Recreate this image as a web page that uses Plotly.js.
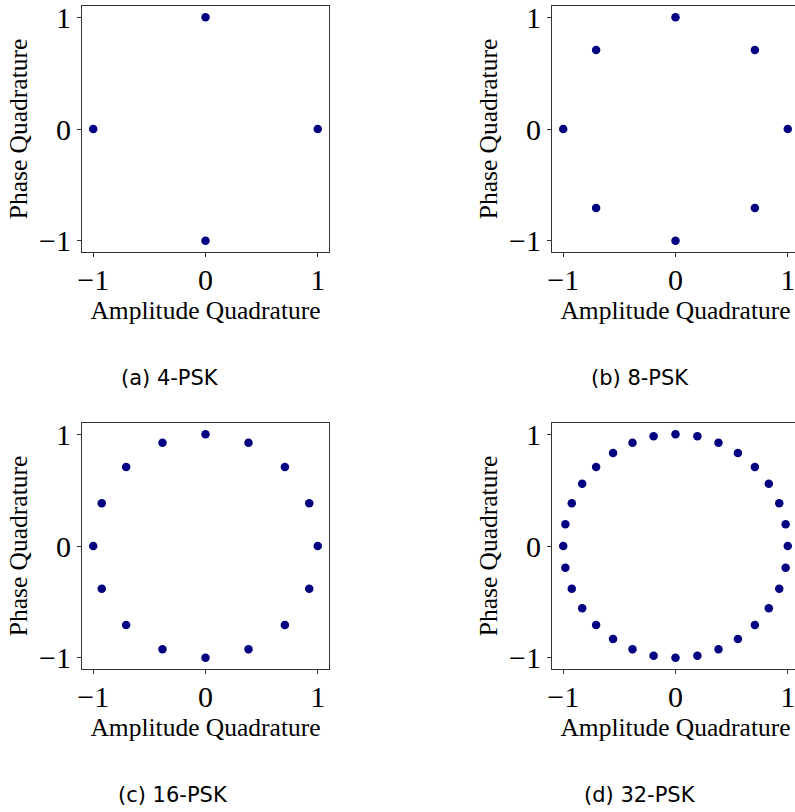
<!DOCTYPE html>
<html><head><meta charset="utf-8">
<script src="https://cdn.plot.ly/plotly-3.0.1.min.js"></script>
<style>html,body{margin:0;padding:0;overflow:hidden;background:#fff}#g{width:800px;height:812px}</style>
</head><body><div id="g"></div>
<script>
// Constellation points (in-phase / amplitude, quadrature / phase)
const psk4_x = [1, 0, -1, 0];
const psk4_y = [0, 1, 0, -1];
const psk8_x = [1, 0.707, 0, -0.707, -1, -0.707, 0, 0.707];
const psk8_y = [0, 0.707, 1, 0.707, 0, -0.707, -1, -0.707];
const psk16_x = [1, 0.924, 0.707, 0.383, 0, -0.383, -0.707, -0.924, -1, -0.924, -0.707, -0.383, 0, 0.383, 0.707, 0.924];
const psk16_y = [0, 0.383, 0.707, 0.924, 1, 0.924, 0.707, 0.383, 0, -0.383, -0.707, -0.924, -1, -0.924, -0.707, -0.383];
const psk32_x = [1, 0.981, 0.924, 0.831, 0.707, 0.556, 0.383, 0.195, 0, -0.195, -0.383, -0.556, -0.707, -0.831, -0.924, -0.981,
                 -1, -0.981, -0.924, -0.831, -0.707, -0.556, -0.383, -0.195, 0, 0.195, 0.383, 0.556, 0.707, 0.831, 0.924, 0.981];
const psk32_y = [0, 0.195, 0.383, 0.556, 0.707, 0.831, 0.924, 0.981, 1, 0.981, 0.924, 0.831, 0.707, 0.556, 0.383, 0.195,
                 0, -0.195, -0.383, -0.556, -0.707, -0.831, -0.924, -0.981, -1, -0.981, -0.924, -0.831, -0.707, -0.556, -0.383, -0.195];
const captions = ["(a) 4-PSK", "(b) 8-PSK", "(c) 16-PSK", "(d) 32-PSK"];
const tickVals = [-1, 0, 1];
const tickText = ["\u22121", "0", "1"];
const xTitle = "Amplitude Quadrature";
const yTitle = "Phase Quadrature";

const W = 800, H = 812;
const sets = [[psk4_x, psk4_y], [psk8_x, psk8_y], [psk16_x, psk16_y], [psk32_x, psk32_y]];
const traces = sets.map((s, i) => ({
  x: s[0], y: s[1], type: 'scatter', mode: 'markers',
  xaxis: i === 0 ? 'x' : 'x' + (i + 1), yaxis: i === 0 ? 'y' : 'y' + (i + 1),
  marker: {color: '#000080', size: 8.5}, showlegend: false, cliponaxis: false, hoverinfo: 'skip'
}));

const xdom = [[82 / W, 329 / W], [552 / W, 799 / W]];
const ydom = [[(H - 252) / H, (H - 6) / H], [(H - 669) / H, (H - 423) / H]];
const serif = 'Liberation Serif, Times New Roman, serif';
const layout = {width: W, height: H, margin: {l: 0, r: 0, t: 0, b: 0}, paper_bgcolor: '#fff', plot_bgcolor: '#fff',
  font: {family: serif, color: '#000'}, annotations: []};
const capPos = [[170, 378], [640, 378], [173, 795], [640, 795]];
for (let i = 0; i < 4; i++) {
  const col = i % 2, row = Math.floor(i / 2);
  const sfx = i === 0 ? '' : String(i + 1);
  const ax = {
    domain: xdom[col], range: [-1.1, 1.1], tickvals: tickVals, ticktext: tickText,
    showgrid: false, zeroline: false, showline: true, mirror: true, linecolor: '#333', linewidth: 1,
    ticks: 'outside', ticklen: 4, tickcolor: '#333', tickfont: {family: serif, size: 30, color: '#000'}, fixedrange: true
  };
  layout['xaxis' + sfx] = Object.assign({}, ax, {anchor: 'y' + sfx, ticklabelstandoff: -3,
    title: {text: xTitle, font: {family: serif, size: 25.5}, standoff: 0}});
  layout['yaxis' + sfx] = Object.assign({}, ax, {domain: ydom[row], anchor: 'x' + sfx,
    title: {text: yTitle, font: {family: serif, size: 25.5}, standoff: 4}});
  layout.annotations.push({text: captions[i], xref: 'paper', yref: 'paper', x: capPos[i][0] / W, y: 1 - capPos[i][1] / H,
    xanchor: 'center', yanchor: 'middle', showarrow: false, font: {family: 'DejaVu Sans, sans-serif', size: 21, color: '#000'}});
}
Plotly.newPlot('g', traces, layout, {staticPlot: true, displayModeBar: false});
</script></body></html>
